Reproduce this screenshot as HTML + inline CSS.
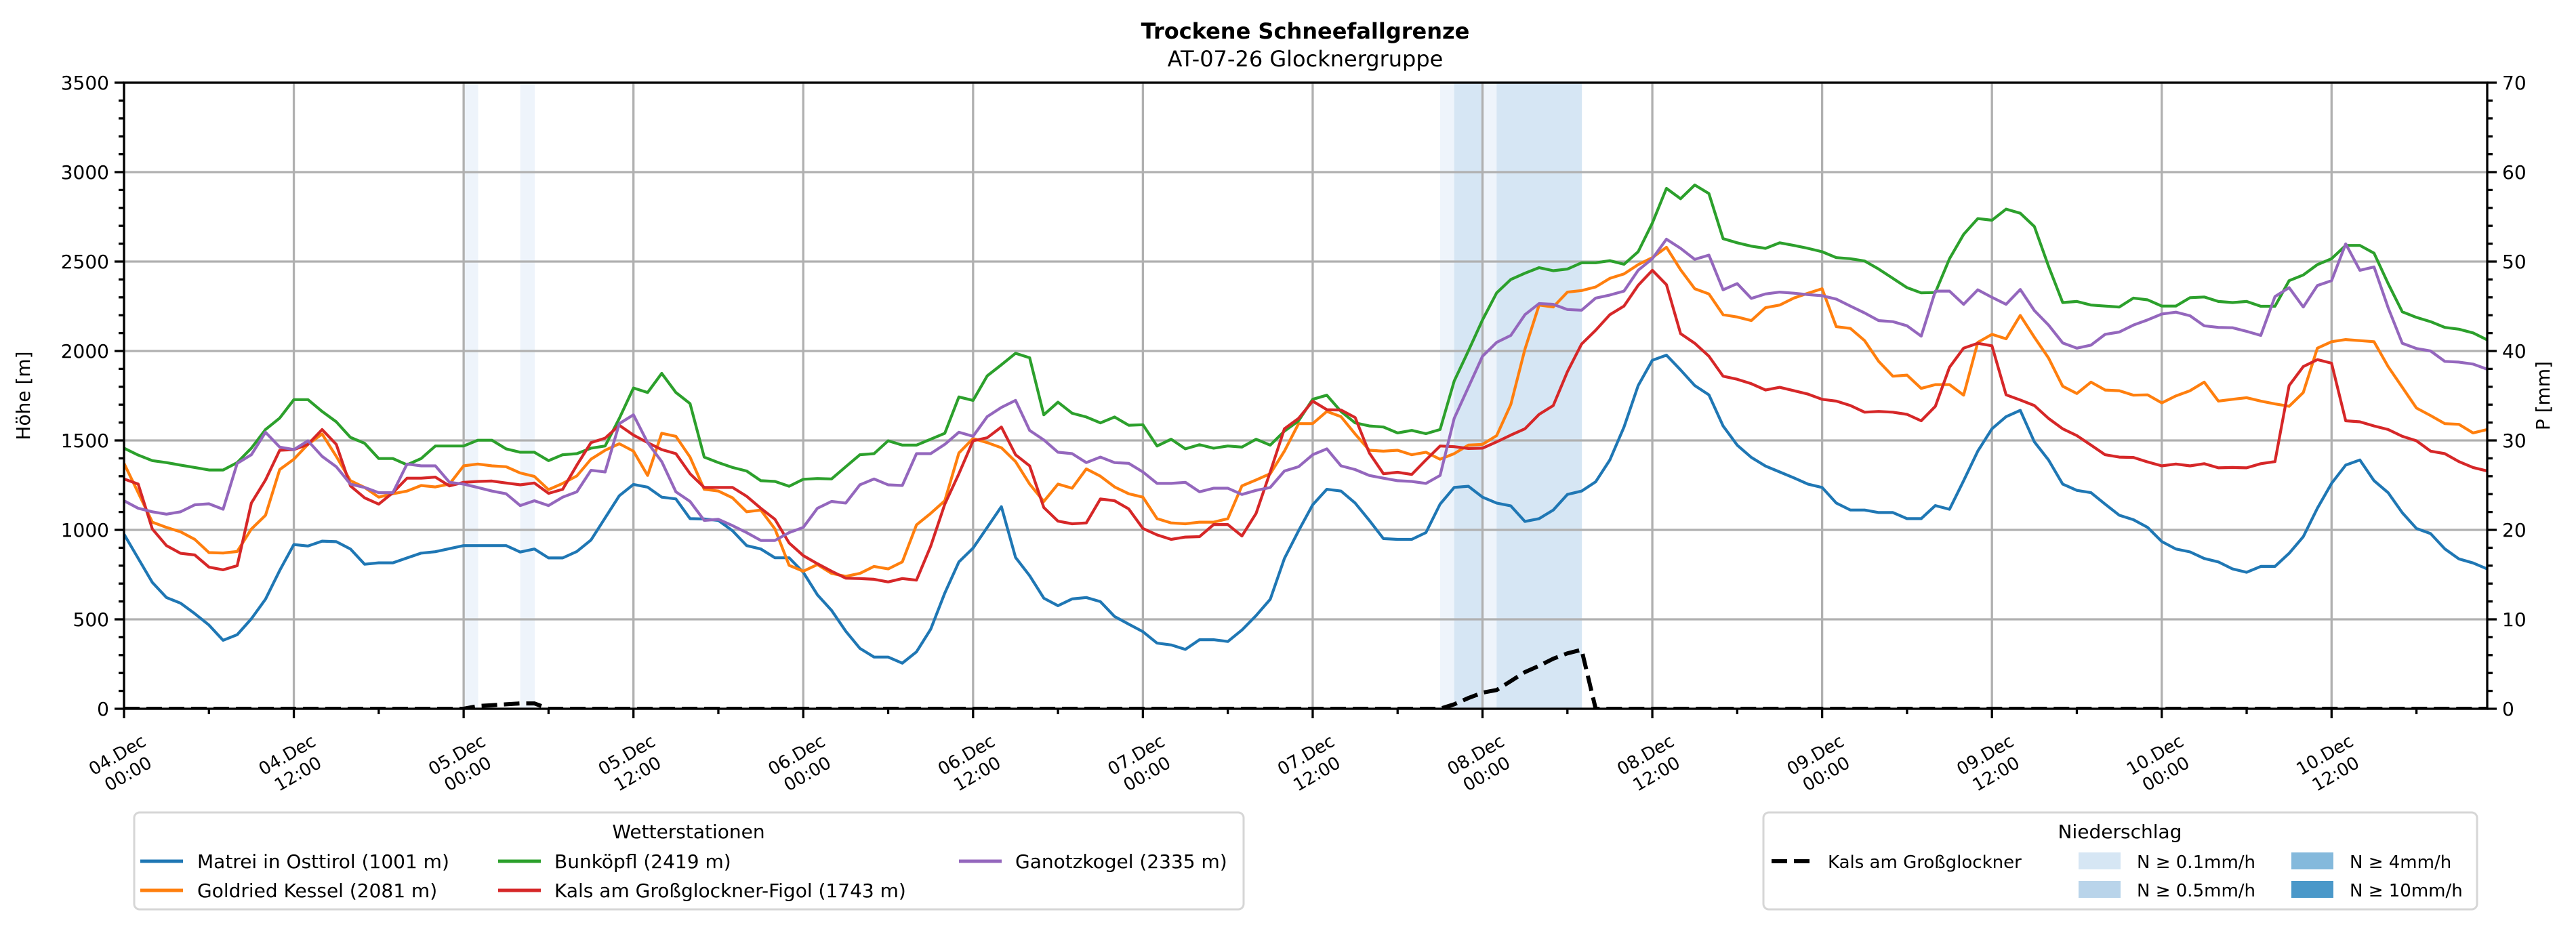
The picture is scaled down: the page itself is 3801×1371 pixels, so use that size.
<!DOCTYPE html>
<html><head><meta charset="utf-8"><style>
html,body{margin:0;padding:0;background:#fff}
svg{display:block;font-family:"DejaVu Sans","Liberation Sans",sans-serif}
</style></head><body>
<svg id="chart" width="3801" height="1371" viewBox="0 0 3801 1371" xmlns="http://www.w3.org/2000/svg">
<rect width="3801" height="1371" fill="#fff"/>
<text x="1926" y="57" text-anchor="middle" font-size="32" font-weight="bold">Trockene Schneefallgrenze</text>
<text x="1926" y="98" text-anchor="middle" font-size="32">AT-07-26 Glocknergruppe</text>
<g id="bands"></g>
<g id="grid"></g>
<defs><clipPath id="clip"><rect x="183" y="122" width="3487" height="924"/></clipPath></defs>
<g id="series" clip-path="url(#clip)"></g>
<g id="axes"></g>
<text transform="translate(44,584) rotate(-90)" text-anchor="middle" font-size="28">Höhe [m]</text>
<text transform="translate(3762,584) rotate(-90)" text-anchor="middle" font-size="28">P [mm]</text>

<g>
<rect x="198" y="1199" width="1637" height="143" rx="8" fill="#fff" stroke="#d6d6d6" stroke-width="3"/>
<text x="1016" y="1237" text-anchor="middle" font-size="28">Wetterstationen</text>
<g><line x1="207" y1="1271" x2="270" y2="1271" stroke="#1f77b4" stroke-width="5"/><text x="291" y="1281" font-size="28">Matrei in Osttirol (1001 m)</text></g>
<g><line x1="207" y1="1314" x2="270" y2="1314" stroke="#ff7f0e" stroke-width="5"/><text x="291" y="1324" font-size="28">Goldried Kessel (2081 m)</text></g>
<g><line x1="735" y1="1271" x2="798" y2="1271" stroke="#2ca02c" stroke-width="5"/><text x="818" y="1281" font-size="28">Bunköpfl (2419 m)</text></g>
<g><line x1="735" y1="1314" x2="798" y2="1314" stroke="#d62728" stroke-width="5"/><text x="818" y="1324" font-size="28">Kals am Großglockner-Figol (1743 m)</text></g>
<g><line x1="1415" y1="1271" x2="1478" y2="1271" stroke="#9467bd" stroke-width="5"/><text x="1498" y="1281" font-size="28">Ganotzkogel (2335 m)</text></g>
</g>

<g>
<rect x="2602" y="1199" width="1053" height="143" rx="8" fill="#fff" stroke="#d6d6d6" stroke-width="3"/>
<text x="3128" y="1237" text-anchor="middle" font-size="28">Niederschlag</text>
<g><line x1="2614" y1="1271" x2="2674" y2="1271" stroke="#000" stroke-width="6" stroke-dasharray="23 10"/><text x="2697" y="1281" font-size="26">Kals am Großglockner</text></g>
<g><rect x="3067" y="1258" width="62" height="25" fill="#d6e6f4"/><text x="3153" y="1281" font-size="26">N ≥ 0.1mm/h</text></g>
<g><rect x="3067" y="1300" width="62" height="25" fill="#b9d4ea"/><text x="3153" y="1323" font-size="26">N ≥ 0.5mm/h</text></g>
<g><rect x="3381" y="1258" width="62" height="25" fill="#84b9dc"/><text x="3467" y="1281" font-size="26">N ≥ 4mm/h</text></g>
<g><rect x="3381" y="1300" width="62" height="25" fill="#4a98c9"/><text x="3467" y="1323" font-size="26">N ≥ 10mm/h</text></g>
</g>
</svg>
<script>
const xTickLabels = ["04.Dec|00:00","04.Dec|12:00","05.Dec|00:00","05.Dec|12:00","06.Dec|00:00","06.Dec|12:00","07.Dec|00:00","07.Dec|12:00","08.Dec|00:00","08.Dec|12:00","09.Dec|00:00","09.Dec|12:00","10.Dec|00:00","10.Dec|12:00"];
const yTicks = [0,500,1000,1500,2000,2500,3000,3500];
const y2Ticks = [0,10,20,30,40,50,60,70];
const matrei = [976,841,706,622,590,532,468,383,414,503,613,773,918,910,937,934,893,808,816,816,843,870,878,895,912,912,912,912,876,893,843,843,879,943,1067,1191,1254,1239,1183,1173,1063,1061,
1053,995,912,893,844,844,763,637,550,434,338,289,289,255,318,444,647,821,898,1014,1130,846,744,618,576,614,622,599,516,473,431,367,357,332,386,386,376,440,521,612,840,995,
1140,1227,1217,1150,1053,951,947,947,985,1144,1237,1244,1183,1150,1134,1047,1063,1111,1198,1217,1269,1391,1575,1807,1948,1977,1894,1807,1755,1581,1474,1405,1357,1324,1291,1256,1237,1150,1111,1111,1097,
1097,1063,1063,1136,1115,1275,1440,1565,1633,1668,1492,1391,1256,1221,1208,1144,1082,1057,1014,935,893,877,840,821,782,763,796,796,869,962,1121,1260,1362,1391,1275,1208,1096,1008,979,894,838,815,782];
const goldried = [1372,1208,1043,1014,989,947,873,871,879,1005,1082,1337,1395,1478,1536,1411,1275,1237,1183,1202,1217,1248,1240,1256,1358,1368,1358,1353,1318,1299,1225,1260,1302,1395,1445,1482,1440,1304,1540,1523,1407,1227,
1217,1179,1101,1111,1005,802,769,806,757,740,757,796,782,821,1028,1092,1163,1430,1511,1488,1459,1382,1256,1159,1256,1233,1341,1300,1240,1202,1183,1063,1039,1034,1043,1043,1063,1246,1279,1314,1440,1594,
1594,1662,1633,1536,1445,1440,1445,1420,1434,1395,1426,1474,1478,1527,1701,2010,2257,2246,2329,2338,2358,2406,2431,2483,2522,2580,2454,2348,2319,2203,2190,2170,2242,2257,2296,2323,2348,2136,2126,2058,1942,
1859,1865,1791,1812,1812,1753,2048,2093,2068,2199,2077,1961,1803,1762,1826,1782,1778,1753,1755,1710,1749,1778,1826,1720,1730,1739,1720,1704,1691,1768,2016,2052,2064,2058,2052,1913,1797,1681,1639,1594,1590,1542,1561];
const bunkoepfl = [1457,1418,1387,1376,1362,1349,1335,1335,1376,1457,1561,1625,1728,1728,1662,1604,1517,1484,1399,1399,1364,1399,1469,1469,1469,1501,1501,1453,1434,1434,1387,1420,1426,1457,1469,1623,1793,1768,1875,1768,1706,1407,
1376,1349,1329,1275,1271,1244,1283,1287,1285,1353,1420,1426,1498,1474,1474,1507,1540,1743,1724,1861,1923,1987,1962,1643,1714,1652,1631,1598,1631,1585,1588,1469,1507,1453,1476,1457,1469,1463,1507,1474,1552,1610,
1730,1753,1662,1598,1581,1575,1542,1556,1538,1561,1832,2000,2174,2325,2400,2435,2466,2449,2458,2493,2493,2505,2485,2555,2715,2909,2851,2928,2880,2628,2605,2586,2574,2605,2590,2574,2555,2522,2516,2503,2458,
2406,2354,2325,2327,2516,2652,2740,2731,2793,2770,2696,2474,2271,2277,2257,2251,2246,2296,2286,2251,2251,2298,2302,2277,2271,2277,2250,2250,2393,2425,2483,2516,2590,2590,2547,2377,2219,2188,2164,2132,2122,2101,2062];
const kalsFigol = [1285,1256,1005,912,869,860,792,777,800,1150,1279,1445,1449,1478,1561,1478,1246,1179,1144,1208,1289,1289,1295,1246,1266,1271,1273,1262,1252,1262,1204,1227,1362,1488,1513,1585,1530,1488,1449,1426,1314,1237,
1237,1237,1188,1121,1059,927,856,811,769,730,728,724,709,728,719,908,1144,1314,1498,1515,1575,1420,1358,1125,1049,1034,1039,1173,1163,1117,1008,972,947,960,962,1030,1030,966,1092,1324,1565,1623,
1720,1672,1670,1628,1430,1314,1322,1310,1391,1469,1465,1455,1457,1492,1530,1565,1646,1695,1884,2039,2116,2203,2251,2367,2451,2371,2097,2043,1971,1859,1842,1817,1782,1797,1778,1759,1730,1720,1695,1658,1662,
1658,1646,1610,1691,1909,2016,2043,2029,1755,1726,1695,1623,1565,1527,1474,1420,1407,1405,1380,1358,1368,1358,1370,1347,1349,1347,1370,1382,1807,1913,1952,1932,1610,1604,1581,1561,1523,1498,1440,1426,1382,1349,1329];
const ganotzkogel = [1163,1121,1101,1088,1101,1140,1146,1115,1372,1420,1546,1463,1449,1498,1411,1353,1256,1237,1208,1208,1368,1358,1358,1266,1256,1237,1217,1202,1136,1163,1136,1183,1213,1333,1324,1594,1643,1488,1382,1213,1159,1053,
1059,1024,985,941,941,985,1014,1121,1159,1150,1252,1285,1252,1248,1426,1426,1478,1546,1523,1633,1685,1724,1556,1503,1434,1426,1376,1407,1376,1372,1324,1260,1260,1266,1213,1233,1233,1198,1221,1237,1329,1353,
1420,1453,1358,1337,1304,1289,1275,1271,1260,1304,1623,1797,1971,2048,2087,2203,2265,2261,2232,2228,2296,2313,2335,2451,2516,2625,2574,2512,2536,2342,2377,2294,2319,2329,2323,2315,2309,2290,2251,2213,2170,
2164,2141,2083,2335,2335,2261,2342,2300,2261,2344,2226,2145,2045,2016,2033,2093,2106,2145,2174,2207,2217,2197,2141,2132,2130,2110,2087,2304,2354,2246,2366,2393,2599,2451,2470,2242,2043,2014,2000,1942,1938,1927,1898];
const precipHours = [24,28,93,94,95,96,97,98,99,100,101,102];
const precipRates = [0.05,0.05,0.05,0.3,0.3,0.05,0.3,0.3,0.3,0.3,0.3,0.3];
const cumHours = [25,26,27,28,29,94,95,96,97,98,99,100,101,102,103];
const cumValues = [0.3,0.4,0.5,0.6,0.6,0.5,1.2,1.8,2.1,3.1,4.1,4.8,5.6,6.2,6.6];
const nHours = 168;

const NS="http://www.w3.org/2000/svg";
const L=183,R=3670,T=122,B=1046;
const x=h=>L+h*(R-L)/(nHours-1);
const y=v=>B-v*(B-T)/3500;
const y2=v=>B-v*(B-T)/70;
function mk(tag,attrs,parent){const e=document.createElementNS(NS,tag);for(const k in attrs)e.setAttribute(k,attrs[k]);parent.appendChild(e);return e;}
const bands=document.getElementById('bands'),grid=document.getElementById('grid'),series=document.getElementById('series'),axes=document.getElementById('axes');

function bandColor(r){if(r>=10)return"#4a98c9";if(r>=4)return"#84b9dc";if(r>=0.5)return"#b9d4ea";if(r>=0.1)return"#d6e6f4";return"#eef4fb";}
precipHours.forEach((h,i)=>{
  const r=mk('rect',{x:x(h),y:T,width:x(h+1)-x(h)+0.5,height:B-T,fill:bandColor(precipRates[i])},bands);
  
  
});
xTickLabels.forEach((s,i)=>{const l=mk('line',{x1:x(i*12),x2:x(i*12),y1:T,y2:B,stroke:"#b0b0b0","stroke-width":3.3},grid);
  
  });
yTicks.forEach(v=>{const l=mk('line',{x1:L,x2:R,y1:y(v),y2:y(v),stroke:"#b0b0b0","stroke-width":3.3},grid);
  
  });
const defs=[[matrei,"#1f77b4","line-matrei"],[goldried,"#ff7f0e","line-goldried"],[bunkoepfl,"#2ca02c","line-bunkoepfl"],[kalsFigol,"#d62728","line-kals-figol"],[ganotzkogel,"#9467bd","line-ganotzkogel"]];
defs.forEach(([d,c,n])=>{
  const p=mk('polyline',{points:d.map((v,i)=>x(i).toFixed(1)+","+y(v).toFixed(1)).join(" "),fill:"none",stroke:c,"stroke-width":4.2,"stroke-linejoin":"round"},series);
  
  
});
const cum=[];for(let h=0;h<nHours;h++){const k=cumHours.indexOf(h);cum.push(k>=0?cumValues[k]:0);}
const dl=mk('polyline',{points:cum.map((v,i)=>x(i).toFixed(1)+","+y2(v).toFixed(1)).join(" "),fill:"none",stroke:"#000","stroke-width":6,"stroke-dasharray":"23 10"},series);


mk('rect',{x:L,y:T,width:R-L,height:B-T,fill:"none",stroke:"#000","stroke-width":3.3},axes);
for(let h=0;h<nHours;h+=6){const maj=h%12===0;mk('line',{x1:x(h),x2:x(h),y1:B,y2:B+(maj?14:8),stroke:"#000","stroke-width":3.3},axes);}
for(let v=0;v<=3500;v+=100){const maj=v%500===0;mk('line',{x1:L,x2:L-(maj?14:8),y1:y(v),y2:y(v),stroke:"#000","stroke-width":3.3},axes);}
for(let v=0;v<=70;v+=2){const maj=v%10===0;mk('line',{x1:R,x2:R+(maj?14:8),y1:y2(v),y2:y2(v),stroke:"#000","stroke-width":3.3},axes);}
yTicks.forEach(v=>{const t=mk('text',{x:L-22,y:y(v)+10,"text-anchor":"end","font-size":28},axes);t.textContent=v;
  
  });
y2Ticks.forEach(v=>{const t=mk('text',{x:R+22,y:y2(v)+10,"font-size":28},axes);t.textContent=v;
  
  });
xTickLabels.forEach((s,i)=>{
  const cx=x(i*12)-2,cy=1128;const parts=s.split("|");
  const t=mk('text',{transform:`translate(${cx},${cy}) rotate(-30)`,"text-anchor":"middle","font-size":26},axes);
  
  
  const a=mk('tspan',{x:0,y:-7},t);a.textContent=parts[0];
  const b=mk('tspan',{x:0,y:25},t);b.textContent=parts[1];
});
</script>
</body></html>
